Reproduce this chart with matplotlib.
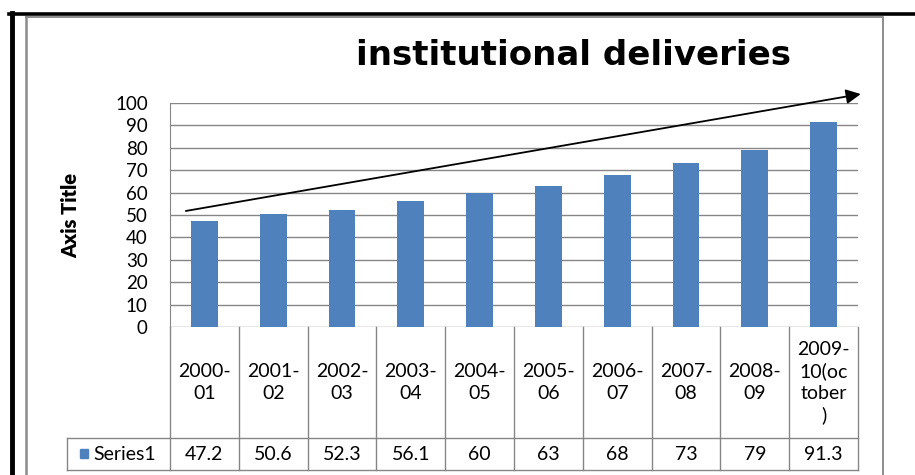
import numpy as np
import matplotlib.pyplot as plt
import matplotlib.patches as mpatches
from matplotlib.lines import Line2D

plt.rcParams['font.family'] = ['Lato', 'DejaVu Sans']

years = ["2000-\n01", "2001-\n02", "2002-\n03", "2003-\n04", "2004-\n05",
         "2005-\n06", "2006-\n07", "2007-\n08", "2008-\n09", "2009-\n10(oc\ntober\n)"]
values = [47.2, 50.6, 52.3, 56.1, 60, 63, 68, 73, 79, 91.3]
value_text = ["47.2", "50.6", "52.3", "56.1", "60", "63", "68", "73", "79", "91.3"]
series_name = "Series1"
title = "institutional deliveries"

# trend arrow (start / end in data units)
arrow_start = (-0.27, 51.8)
arrow_end = (9.54, 104)

blue = "#4F81BD"
grid = "#868686"

fig = plt.figure(figsize=(9.15, 4.75), dpi=100)

# outer frame: thick black top/left, grey inner frame
fig.add_artist(Line2D([9 / 915, 1], [1 - 14 / 475, 1 - 14 / 475], color="black", lw=2.6))
fig.add_artist(Line2D([11.5 / 915, 11.5 / 915], [0, 1 - 13 / 475], color="black", lw=3.5))
fig.add_artist(Line2D([26 / 915, 883 / 915, 883 / 915], [1 - 17 / 475, 1 - 17 / 475, 0],
                      color="#8c8c8c", lw=1.4))
fig.add_artist(Line2D([26 / 915, 26 / 915], [0, 1 - 17 / 475], color="#8c8c8c", lw=1.8))

ax = fig.add_axes([170 / 915, 1 - 327 / 475, 688 / 915, 224 / 475])
n = len(values)
x = np.arange(n)
ax.bar(x, values, width=0.39, color=blue, zorder=3)
ax.set_xlim(-0.5, n - 0.5)
ax.set_ylim(0, 100)
ax.set_yticks(np.arange(0, 101, 10))
ax.set_xticks([])
ax.yaxis.grid(True, color=grid, lw=1)
ax.set_axisbelow(True)
ax.tick_params(axis="y", length=0, pad=16, labelsize=13.5)
for s in ["top", "right", "bottom"]:
    ax.spines[s].set_visible(False)
ax.spines["left"].set_color(grid)
ax.set_ylabel("Axis Title", fontsize=14.5, fontweight="heavy", labelpad=25)

ax.annotate("", xy=arrow_end, xytext=arrow_start, annotation_clip=False,
            arrowprops=dict(arrowstyle="-|>", color="black", lw=1.3,
                            mutation_scale=22, shrinkA=0, shrinkB=0))

fig.text(574 / 915, 1 - 65 / 475, title, fontsize=24.5, fontweight="bold",
         family="DejaVu Sans", ha="center", va="baseline")

# data table under the axis, drawn in axes coordinates
tr = ax.transAxes
y_head = -111 / 224
y_bot = -143 / 224
x_leg = -103 / 688
edges = np.linspace(0, 1, n + 1)
kw = dict(transform=tr, color=grid, lw=1, clip_on=False)
for xe in edges:
    ax.plot([xe, xe], [0, y_bot], **kw)
ax.plot([x_leg, x_leg], [y_head, y_bot], **kw)
ax.plot([x_leg, 1], [y_head, y_head], **kw)
ax.plot([x_leg, 1], [y_bot, y_bot], **kw)
for i in range(n):
    xc = (edges[i] + edges[i + 1]) / 2
    ax.text(xc, y_head / 2, years[i], transform=tr, fontsize=14,
            ha="center", va="center", linespacing=1.3)
    ax.text(xc, (y_head + y_bot) / 2, value_text[i], transform=tr,
            fontsize=14, ha="center", va="center")

ax.add_patch(mpatches.Rectangle((-90 / 688, -131 / 224), 8 / 688, 9 / 224,
                                transform=tr, color=blue, clip_on=False))
ax.text(-77 / 688, (y_head + y_bot) / 2, series_name, transform=tr,
        fontsize=14, ha="left", va="center")

fig.savefig("out.png", dpi=100)
